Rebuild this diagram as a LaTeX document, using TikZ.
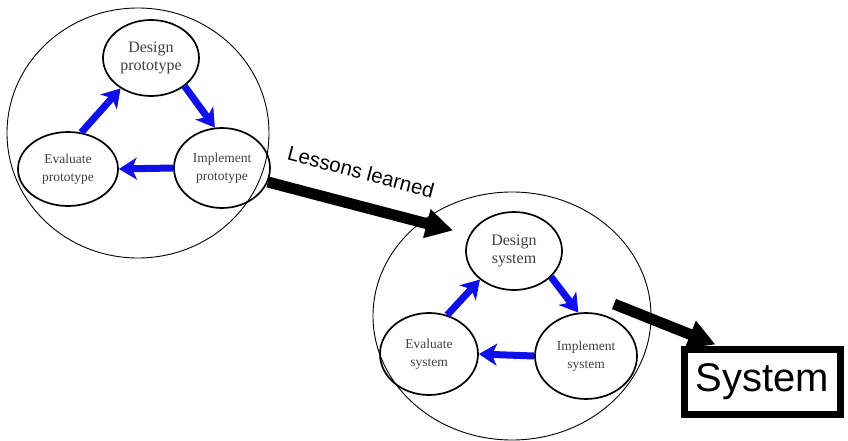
\documentclass[tikz,border=0pt]{standalone}
\usepackage{fontspec}
\setmainfont{Liberation Serif}
\newfontfamily\arialfont{Liberation Sans}
\usetikzlibrary{shapes.geometric,arrows.meta}
\definecolor{loopblue}{RGB}{15,15,235}

\begin{document}
\begin{tikzpicture}[
				x = 1pt, y = -1pt, % pixel units, y downwards
				stage/.style = {ellipse, draw, line width=1.7pt, inner sep=0pt, align=center, text=black!75}, % small ellipses
				phase/.style = {ellipse, draw, line width=0.9pt, inner sep=0pt}, % big circles
				loop/.style = {-{Stealth[length=18pt,width=22pt,inset=5pt]}, line width=7pt, loopblue}, % blue cycle arrows
				fat/.style = {-{Triangle[length=27pt,width=28pt]}, line width=11pt}, % black arrows
				big/.style = {font=\fontsize{16}{18}\selectfont},
				small/.style = {font=\fontsize{13.5}{18}\selectfont}
				]
				\useasboundingbox (0,0) rectangle (848,441);
				
				% prototype cycle
				\node[phase, minimum width=262pt, minimum height=250pt] (bigP) at (138,133) {};
				\node[stage, big, minimum width=96pt, minimum height=76pt] (desP) at (151,58) {Design\\prototype};
				\node[stage, small, minimum width=100pt, minimum height=74pt] (evalP) at (68,169) {Evaluate\\prototype};
				\node[stage, small, minimum width=96pt, minimum height=80pt] (impP) at (222,168) {Implement\\prototype};
				
				\path[loop] (evalP.70) edge (desP.225);
				\path[loop] (desP.-40) edge (impP.100);
				\path[loop] (impP.180) edge (evalP.0);
				
				% system cycle
				\node[phase, minimum width=278pt, minimum height=248pt] (bigS) at (512,316) {};
				\node[stage, big, minimum width=96pt, minimum height=78pt] (desS) at (514,251) {Design\\system};
				\node[stage, small, minimum width=98pt, minimum height=82pt] (evalS) at (429,354) {Evaluate\\system};
				\node[stage, small, minimum width=102pt, minimum height=86pt] (impS) at (586,356) {Implement\\system};
				
				\path[loop] (evalS.65) edge (desS.220);
				\path[loop] (desS.-35) edge (impS.100);
				\path[loop] (impS.180) edge (evalS.0);
				
				% result
				\node[draw, line width=7pt, inner sep=0pt, minimum width=156pt, minimum height=65pt,
					font=\arialfont\fontsize{40}{40}\selectfont] (sysBox) at (762,382) {System};
				\coordinate (outS) at (614,304);
				
				\path[fat, shorten >=17pt] (impP.-17) edge node[pos=0.42, sloped, above=17pt,
					font=\arialfont\fontsize{20.5}{22}\selectfont] {Lessons learned} (desS.160);
				\path[fat, shorten >=4pt] (outS) edge (sysBox.140);
				
			\end{tikzpicture}
\end{document}
